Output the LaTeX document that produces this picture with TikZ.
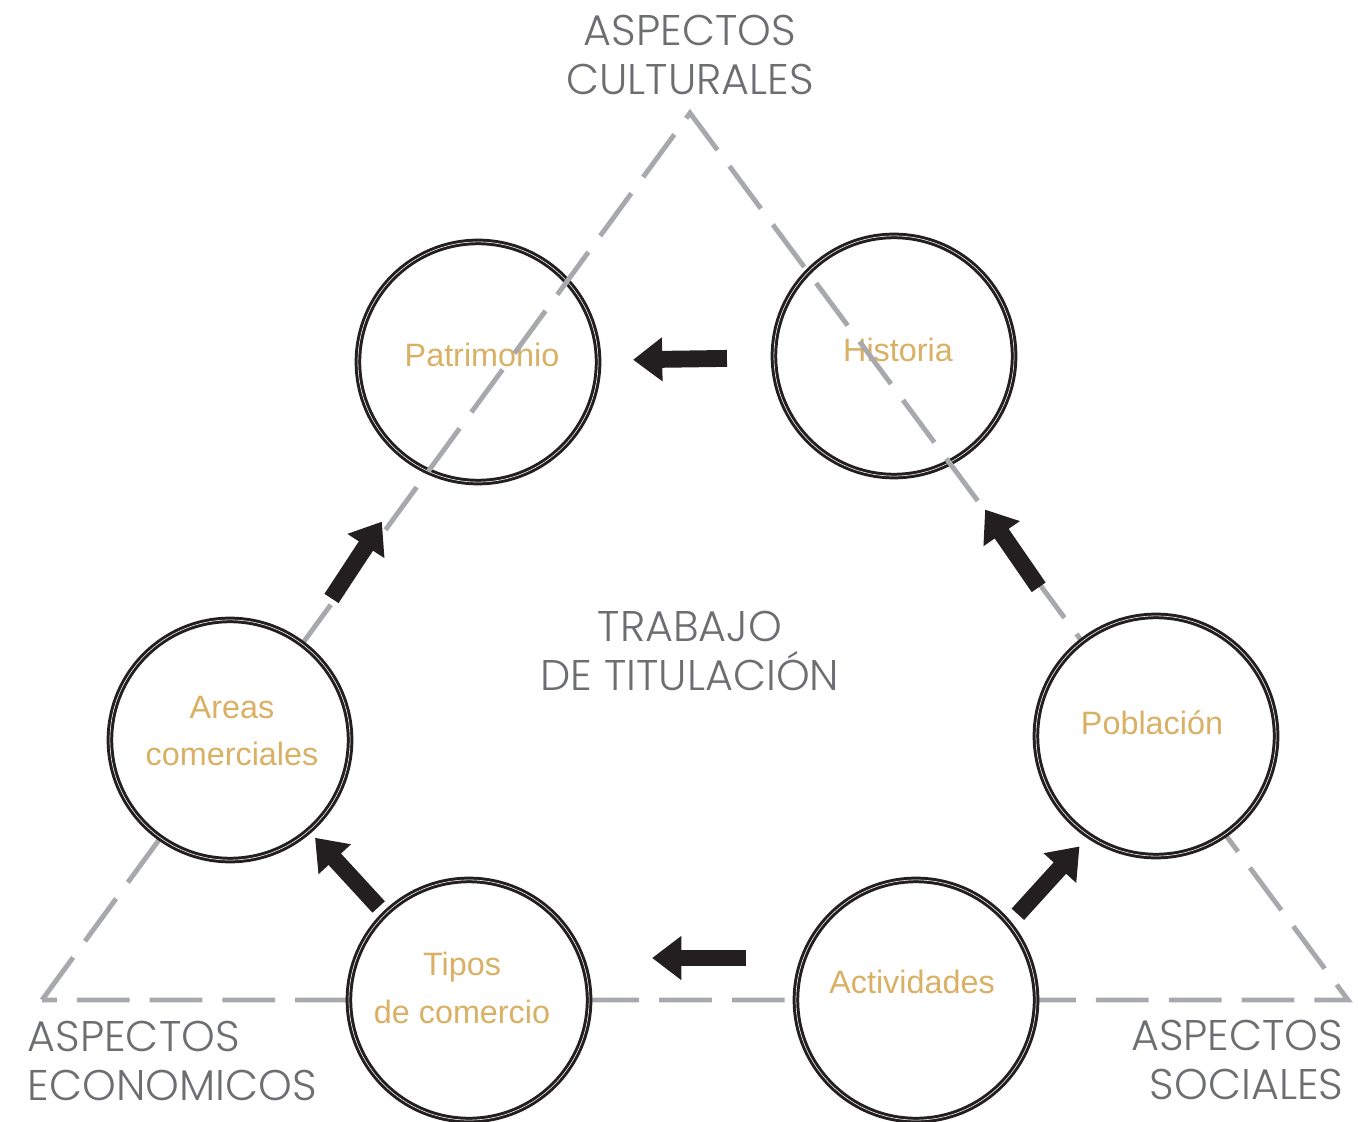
\documentclass[tikz,border=0pt]{standalone}
\usepackage{fontspec}
\setmainfont{Liberation Sans}
\newfontfamily\titlefont{Poppins Light}
\usetikzlibrary{arrows.meta,calc}
\definecolor{linegray}{RGB}{167,169,172}
\definecolor{textgray}{RGB}{109,110,113}
\definecolor{gold}{RGB}{217,176,100}
\definecolor{ink}{RGB}{35,31,32}

\begin{document}
\begin{tikzpicture}[x=0.01cm, y=-0.01cm,
    bubble/.style={circle, draw=ink, line width=0.85pt, double=white,
    double distance=0.16pt, minimum size=2.4cm, inner sep=0pt},
    filled bubble/.style={bubble, fill=white},
    tag/.style={text=gold, font=\fontsize{9.2}{13.6}\selectfont, align=center},
    heading/.style={text=textgray, inner sep=0pt,
    font=\titlefont\fontsize{12.2}{13.7}\selectfont},
    side/.style={draw=linegray, line width=1.4pt, dash pattern=on 15pt off 5.7pt,
    line join=miter},
    push/.style={draw=ink, line width=4.8pt, -{Triangle[length=8.3pt, width=12pt]}}]
    \useasboundingbox (0,0) rectangle (1358,1122);
    \coordinate (top) at (690,113);
    \coordinate (left) at (42,1000);
    \coordinate (right) at (1348,1000);

    % circles the dashed line runs across
    \node[bubble] (patr) at (478,362) {};
    \node[bubble] (hist) at (894,356) {};
    \node[tag] (patr-t) at (482,355) {Patrimonio};
    \node[tag] (hist-t) at (898,350) {Historia};

    \draw[side] (left) -- (top) -- (right) -- cycle;

    % circles that hide the line
    \node[filled bubble] (area) at (230,740) {};
    \node[filled bubble] (pob) at (1156,736) {};
    \node[filled bubble] (tipo) at (469,1000) {};
    \node[filled bubble] (act) at (916,1000) {};
    \node[tag] (area-t) at (232,731) {Areas\\comerciales};
    \node[tag] (pob-t) at (1152,723) {Población};
    \node[tag] (tipo-t) at (462,988) {Tipos\\de comercio};
    \node[tag] (act-t) at (912,982) {Actividades};

    \node[heading, align=center] (cult) at (690,55) {ASPECTOS\\CULTURALES};
    \node[heading, align=center] (tt) at (690,651) {TRABAJO\\DE TITULACIÓN};
    \node[heading, align=left, anchor=west] (econ) at (27,1061) {ASPECTOS\\ECONOMICOS};
    \node[heading, align=right, anchor=east] (soc) at (1344,1060) {ASPECTOS\\SOCIALES};

    \draw[push, shorten <=1.67cm, shorten >=1.55cm] (hist.center) -- (patr.center);
    \draw[push, shorten <=1.89cm, shorten >=1.78cm]
          ([shift={(-10,7)}]pob.center) -- ([shift={(-10,7)}]hist.center);
    \draw[push, shorten <=1.32cm, shorten >=1.33cm]
          ([shift={(13,12)}]act.center) -- ([shift={(13,12)}]pob.center);
    \draw[push, shorten <=1.70cm, shorten >=1.83cm]
          ([shift={(0,-42)}]act.center) -- ([shift={(0,-42)}]tipo.center);
    \draw[push, shorten <=1.29cm, shorten >=1.30cm]
          ([shift={(-3,2)}]tipo.center) -- ([shift={(-3,2)}]area.center);
    \draw[push, shorten <=1.74cm, shorten >=1.86cm]
          ([shift={(6,4)}]area.center) -- ([shift={(6,4)}]patr.center);
\end{tikzpicture}
\end{document}
